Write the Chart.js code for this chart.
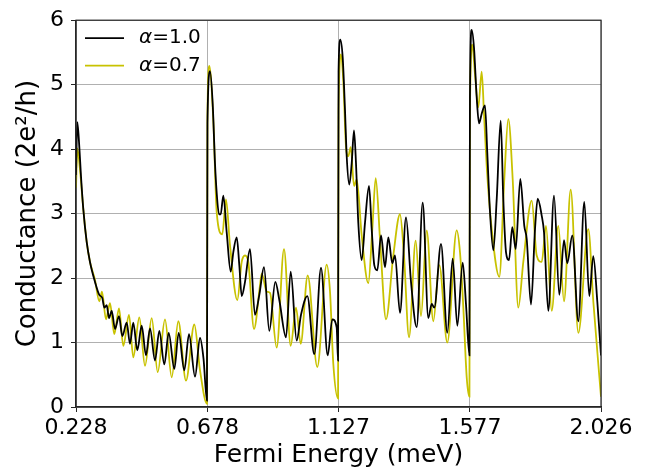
<!DOCTYPE html>
<html>
<head>
<meta charset="utf-8">
<script src="https://cdn.jsdelivr.net/npm/chart.js@4"></script>
<style>
    body { margin: 0; background: #fff; }
    canvas { display: block; }
</style>
</head>
<body>
<canvas id="js--chart" width="651" height="472"></canvas>
<script>
// conductance vs Fermi energy, alpha = 1.0
const energy10 = [
    0.228, 0.2325, 0.2393, 0.2451, 0.2530, 0.2646, 0.2759, 0.2931, 0.3078,
    0.3181, 0.3249, 0.3331, 0.3410, 0.3503, 0.3616, 0.3753, 0.3866, 0.4016, 0.4129,
    0.4242, 0.4379, 0.4530, 0.4677, 0.4814, 0.4986, 0.5133, 0.5304, 0.5455, 0.5647,
    0.5797, 0.5989, 0.6150, 0.6356, 0.6527, 0.6647, 0.6765, 0.6782,
    0.6869, 0.6962, 0.7040, 0.7099, 0.7177, 0.7236, 0.7325, 0.7441, 0.7578, 0.7667,
    0.7784, 0.7873, 0.7955, 0.8068, 0.8239, 0.8410, 0.8558, 0.8719, 0.8900, 0.9106,
    0.9243, 0.9472, 0.9633, 0.9838, 0.9986, 1.0202, 1.0441, 1.0671, 1.0900, 1.1058,
    1.1208, 1.1255, 1.1272,
    1.1332, 1.1414, 1.1493, 1.1551, 1.1640, 1.1722, 1.1801, 1.1869, 1.1948, 1.2065,
    1.2178, 1.2315, 1.2407, 1.2496, 1.2599, 1.2726, 1.2863, 1.2976, 1.3113, 1.3205,
    1.3376, 1.3582, 1.3753, 1.3948, 1.4154, 1.4346, 1.4462, 1.4551, 1.4781, 1.4996,
    1.5181, 1.5339, 1.5524, 1.5637, 1.5755, 1.5772,
    1.5832, 1.5911, 1.6003, 1.6082, 1.6174, 1.6287, 1.6366, 1.6459, 1.6572, 1.6688,
    1.6825, 1.6914, 1.7007, 1.7109, 1.7222, 1.7339, 1.7496, 1.7633, 1.7715, 1.7863,
    1.8000, 1.8092, 1.8229, 1.8308, 1.8455, 1.8651, 1.8832, 1.8993, 1.9106, 1.9277,
    1.9483, 1.9688, 1.9859, 1.9996, 2.0133, 2.026
];
const cond10 = [
    3.60, 4.42, 4.04, 3.58, 3.07, 2.56, 2.25, 1.94, 1.74,
    1.69, 1.54, 1.58, 1.38, 1.49, 1.21, 1.41, 1.10, 1.31, 0.98,
    1.31, 0.88, 1.26, 0.80, 1.22, 0.72, 1.18, 0.66, 1.15, 0.59,
    1.15, 0.57, 1.13, 0.47, 1.07, 0.75, 0.10, 4.40,
    5.21, 4.70, 3.78, 3.32, 2.99, 2.99, 3.28, 2.71, 2.10, 2.40,
    2.63, 2.20, 1.72, 1.94, 2.45, 1.43, 1.74, 2.17, 1.18, 1.94,
    1.66, 1.08, 2.10, 1.03, 1.43, 1.72, 0.82, 2.16, 0.80, 1.36,
    1.23, 0.72, 5.20,
    5.70, 5.42, 4.60, 3.89, 3.45, 3.78, 4.29, 3.78, 2.86, 2.28,
    2.86, 3.43, 2.76, 2.20, 2.12, 2.66, 2.17, 2.63, 2.23, 2.35,
    1.46, 2.94, 1.94, 1.24, 3.17, 1.38, 1.60, 1.54, 2.53, 1.15,
    2.30, 1.26, 2.24, 1.59, 0.80, 4.80,
    5.85, 5.57, 4.80, 4.40, 4.55, 4.68, 3.94, 3.02, 2.43, 3.22,
    4.44, 3.22, 2.40, 2.28, 2.79, 2.45, 3.54, 2.81, 2.61, 1.59,
    2.76, 3.23, 2.97, 2.71, 1.49, 3.28, 1.74, 2.59, 2.23, 2.66,
    1.33, 3.18, 1.72, 2.34, 1.64, 0.80
];

// alpha = 0.7
const energy07 = [
    0.228, 0.2325, 0.2417, 0.2530, 0.2646, 0.2759, 0.2931, 0.3078, 0.3170, 0.3307,
    0.3444, 0.3592, 0.3753, 0.3900, 0.4095, 0.4242, 0.4448, 0.4643, 0.4873, 0.5078,
    0.5328, 0.5558, 0.5784, 0.6047, 0.6332, 0.6527, 0.6765, 0.6782,
    0.6845, 0.6982, 0.7099, 0.7290, 0.7417, 0.7554, 0.7804, 0.7955, 0.8068, 0.8181,
    0.8376, 0.8582, 0.8640, 0.8811, 0.8924, 0.9153, 0.9404, 0.9633, 0.9815, 0.9975,
    1.0215, 1.0544, 1.0866, 1.0979, 1.1092, 1.1255, 1.1272,
    1.1356, 1.1434, 1.1527, 1.1606, 1.1688, 1.1801, 1.1893, 1.2065, 1.2291, 1.2428,
    1.2544, 1.2691, 1.2897, 1.3147, 1.3376, 1.3513, 1.3685, 1.3914, 1.4096, 1.4291,
    1.4517, 1.4722, 1.4996, 1.5318, 1.5431, 1.5544, 1.5661, 1.5755, 1.5772,
    1.5853, 1.5945, 1.6058, 1.6174, 1.6253, 1.6346, 1.6517, 1.6777, 1.6948, 1.7085,
    1.7236, 1.7428, 1.7599, 1.7887, 1.8058, 1.8229, 1.8377, 1.8572, 1.8798, 1.8993,
    1.9222, 1.9483, 1.9825, 1.9996, 2.026
];
const cond07 = [
    3.40, 4.01, 3.68, 3.07, 2.56, 2.25, 1.97, 1.64, 1.79, 1.36,
    1.61, 1.13, 1.53, 0.95, 1.43, 0.77, 1.39, 0.64, 1.38, 0.54,
    1.36, 0.46, 1.33, 0.41, 1.28, 0.57, 0.05, 4.50,
    5.29, 4.45, 3.02, 2.68, 3.22, 2.51, 1.66, 2.25, 2.35, 2.25,
    1.21, 1.89, 2.07, 1.79, 1.77, 0.92, 2.45, 0.95, 1.54, 0.98,
    2.04, 0.62, 2.21, 1.79, 0.67, 0.13, 4.60,
    5.47, 5.06, 4.04, 3.89, 4.03, 3.43, 3.53, 2.66, 1.92, 2.76,
    3.55, 2.61, 1.36, 2.35, 2.99, 2.35, 1.08, 2.58, 1.41, 2.74,
    1.33, 2.20, 1.00, 2.74, 2.40, 1.55, 0.46, 0.16, 4.60,
    5.62, 5.16, 4.65, 5.20, 4.55, 3.73, 2.76, 2.02, 3.53, 4.47,
    3.53, 1.54, 2.25, 3.20, 2.35, 2.25, 2.81, 1.49, 2.81, 1.64,
    3.37, 1.15, 2.76, 1.64, 0.16
];

const seriesNames = ["1.0", "0.7"];
const seriesColors = ["#000000", "#c8c200"];
const xTicks = [0.228, 0.678, 1.127, 1.577, 2.026];
const yTicks = [0, 1, 2, 3, 4, 5, 6];

const FONT = "'DejaVu Sans', sans-serif";
const SPINE = "#262626";

const toPoints = (xs, ys) => xs.map((x, i) => ({ x: x, y: ys[i] }));

// legend drawn inside the upper left corner, no frame
const cornerLegend = {
    id: "cornerLegend",
    afterDraw(chart) {
        const ctx = chart.ctx;
        const left = chart.chartArea.left;
        const top = chart.chartArea.top;
        ctx.save();
        seriesNames.forEach((name, i) => {
            const y = top + 18 + i * 27.5;
            ctx.strokeStyle = seriesColors[i];
            ctx.lineWidth = 1.8;
            ctx.beginPath();
            ctx.moveTo(left + 9, y);
            ctx.lineTo(left + 48, y);
            ctx.stroke();

            ctx.fillStyle = "#000";
            ctx.textBaseline = "middle";
            ctx.textAlign = "left";
            ctx.font = "italic 20px " + FONT;
            const x0 = left + 63;
            ctx.fillText("\u03b1", x0, y);
            const w = ctx.measureText("\u03b1").width;
            ctx.font = "20px " + FONT;
            ctx.fillText("=" + name, x0 + w, y);
        });
        ctx.restore();
    }
};

// box round the plot area
const frame = {
    id: "frame",
    afterDraw(chart) {
        const a = chart.chartArea;
        const ctx = chart.ctx;
        ctx.save();
        ctx.strokeStyle = SPINE;
        ctx.lineWidth = 1.2;
        ctx.strokeRect(a.left, a.top, a.right - a.left, a.bottom - a.top);
        ctx.restore();
    }
};

const data = {
    datasets: [
        {
            label: "\u03b1=1.0",
            data: toPoints(energy10, cond10),
            borderColor: seriesColors[0],
            borderWidth: 1.8
        },
        {
            label: "\u03b1=0.7",
            data: toPoints(energy07, cond07),
            borderColor: seriesColors[1],
            borderWidth: 1.8
        }
    ]
};

const config = {
    type: "line",
    data: data,
    options: {
        responsive: false,
        animation: false,
        devicePixelRatio: 1,
        layout: { padding: { left: 0, right: 50, top: 15, bottom: 0 } },
        elements: {
            point: { radius: 0 },
            line: { cubicInterpolationMode: "monotone", fill: false }
        },
        plugins: {
            legend: { display: false },
            tooltip: { enabled: false }
        },
        scales: {
            x: {
                type: "linear",
                min: 0.228,
                max: 2.026,
                afterBuildTicks: (scale) => {
                    scale.ticks = xTicks.map((v) => ({ value: v }));
                },
                afterFit: (scale) => { scale.height = 65; },
                ticks: {
                    autoSkip: false,
                    maxRotation: 0,
                    padding: 3,
                    color: "#000",
                    font: { family: FONT, size: 22 },
                    callback: (v) => Number(v).toFixed(3)
                },
                grid: { color: "#b0b0b0", lineWidth: 1, tickColor: SPINE, tickLength: 5 },
                border: { color: SPINE, width: 1.2 },
                title: {
                    display: true,
                    text: "Fermi Energy (meV)",
                    color: "#000",
                    font: { family: FONT, size: 25 },
                    padding: { top: 0, bottom: 2 }
                }
            },
            y: {
                min: 0,
                max: 6,
                afterBuildTicks: (scale) => {
                    scale.ticks = yTicks.map((v) => ({ value: v }));
                },
                afterFit: (scale) => { scale.width = 76; },
                ticks: {
                    padding: 7,
                    color: "#000",
                    font: { family: FONT, size: 22 }
                },
                grid: { color: "#b0b0b0", lineWidth: 1, tickColor: SPINE, tickLength: 5 },
                border: { color: SPINE, width: 1.2 },
                title: {
                    display: true,
                    text: "Conductance (2e\u00b2/h)",
                    color: "#000",
                    font: { family: FONT, size: 26 },
                    padding: { top: 13, bottom: 0 }
                }
            }
        }
    },
    plugins: [cornerLegend, frame]
};

const chart = new Chart(document.getElementById("js--chart"), config);
</script>
</body>
</html>
